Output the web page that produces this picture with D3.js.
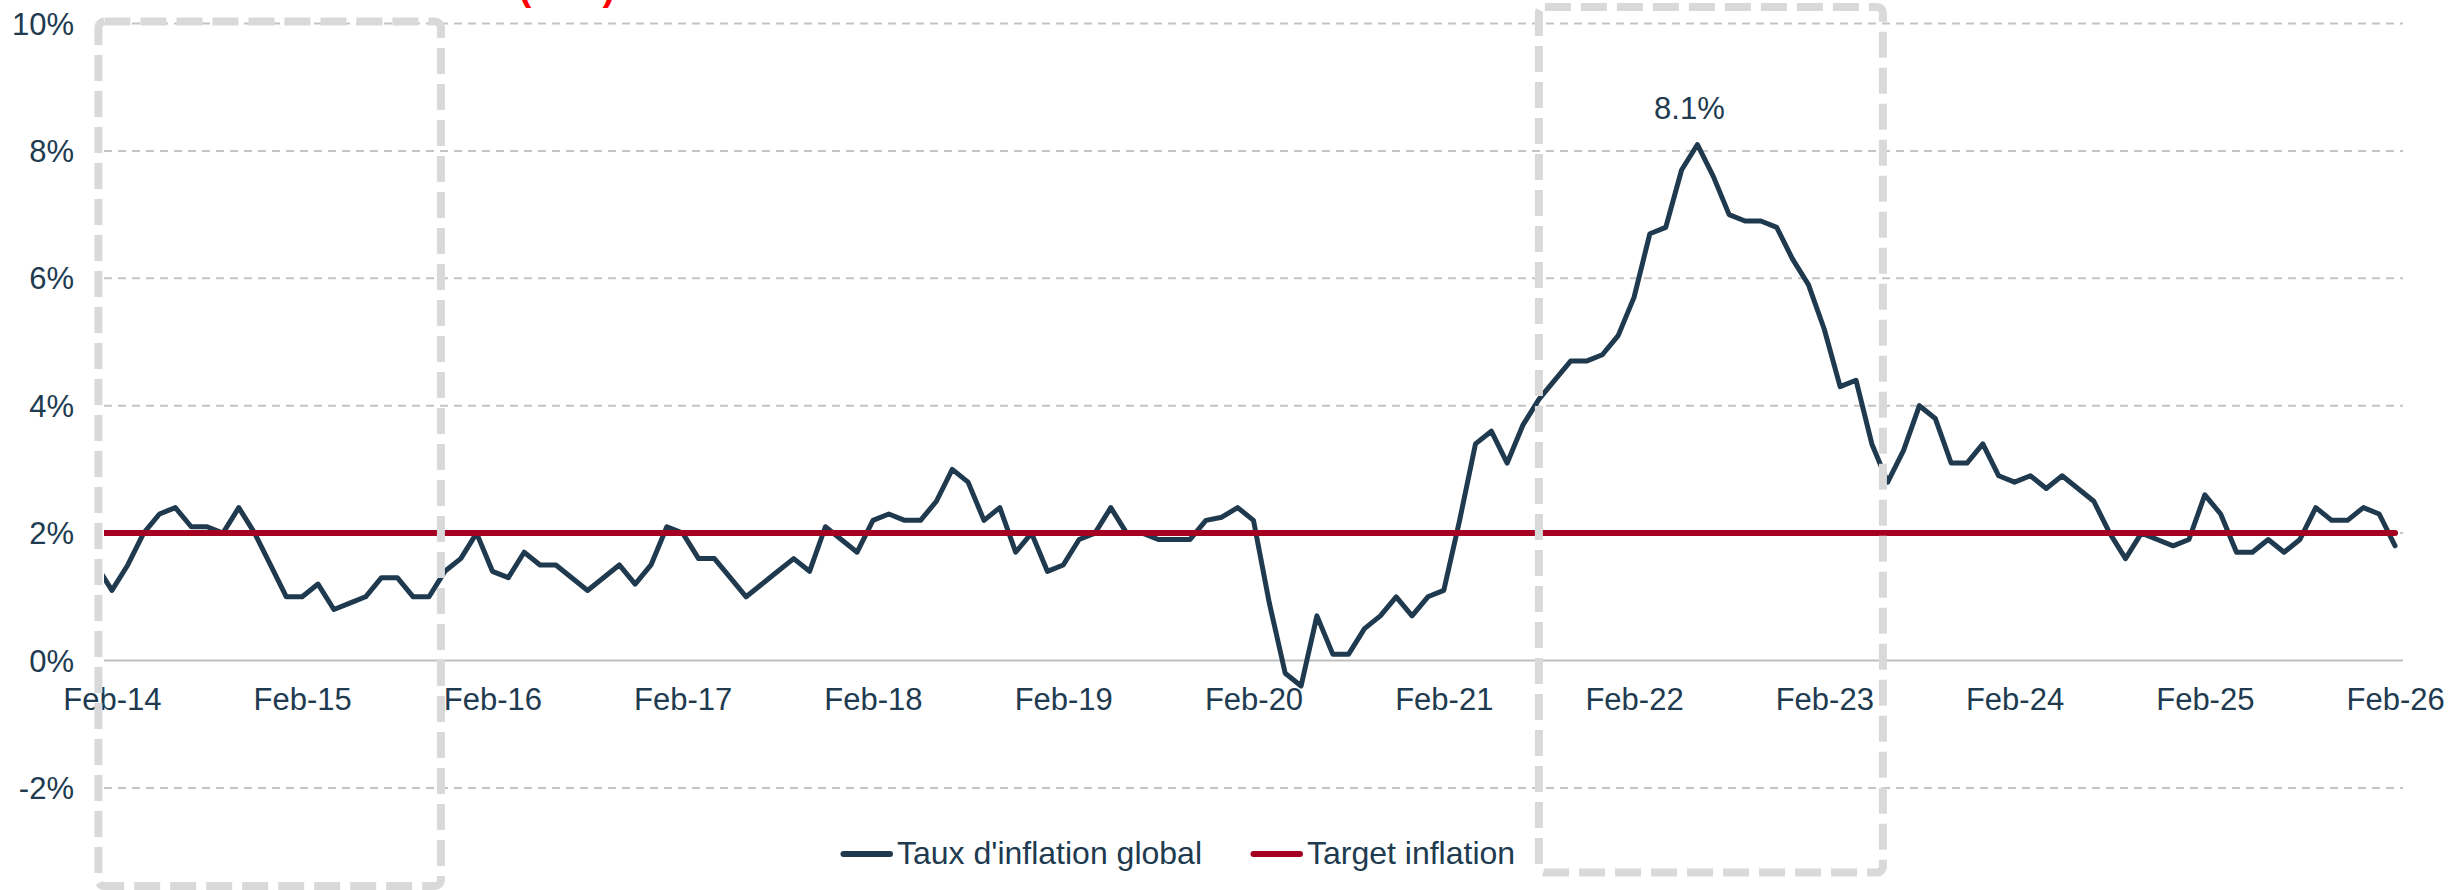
<!DOCTYPE html>
<html>
<head>
<meta charset="utf-8">
<script src="https://cdn.jsdelivr.net/npm/d3@7"></script>
<style>
  body { margin: 0; background: #fff; }
  text { font-family: "Liberation Sans", Arial, sans-serif; }
</style>
</head>
<body>
<svg id="chart" width="2464" height="890"></svg>
<script>
// monthly categories, Jan-14 .. Feb-26
var months = d3.timeMonth.range(new Date(2014, 0, 1), new Date(2026, 2, 1));

// headline inflation, % y/y (one row per year)
var inflation = [
  1.5, 1.1, 1.5, 2.0, 2.3, 2.4, 2.1, 2.1, 2.0, 2.4, 2.0, 1.5,
  1.0, 1.0, 1.2, 0.8, 0.9, 1.0, 1.3, 1.3, 1.0, 1.0, 1.4, 1.6,
  2.0, 1.4, 1.3, 1.7, 1.5, 1.5, 1.3, 1.1, 1.3, 1.5, 1.2, 1.5,
  2.1, 2.0, 1.6, 1.6, 1.3, 1.0, 1.2, 1.4, 1.6, 1.4, 2.1, 1.9,
  1.7, 2.2, 2.3, 2.2, 2.2, 2.5, 3.0, 2.8, 2.2, 2.4, 1.7, 2.0,
  1.4, 1.5, 1.9, 2.0, 2.4, 2.0, 2.0, 1.9, 1.9, 1.9, 2.2, 2.25,
  2.4, 2.2, 0.9, -0.2, -0.4, 0.7, 0.1, 0.1, 0.5, 0.7, 1.0, 0.7,
  1.0, 1.1, 2.2, 3.4, 3.6, 3.1, 3.7, 4.1, 4.4, 4.7, 4.7, 4.8,
  5.1, 5.7, 6.7, 6.8, 7.7, 8.1, 7.6, 7.0, 6.9, 6.9, 6.8, 6.3,
  5.9, 5.2, 4.3, 4.4, 3.4, 2.8, 3.3, 4.0, 3.8, 3.1, 3.1, 3.4,
  2.9, 2.8, 2.9, 2.7, 2.9, 2.7, 2.5, 2.0, 1.6, 2.0, 1.9, 1.8,
  1.9, 2.6, 2.3, 1.7, 1.7, 1.9, 1.7, 1.9, 2.4, 2.2, 2.2, 2.4,
  2.3, 1.8
];

var targetInflation = 2;

var tickLabels = ["Feb-14", "Feb-15", "Feb-16", "Feb-17", "Feb-18", "Feb-19", "Feb-20",
                  "Feb-21", "Feb-22", "Feb-23", "Feb-24", "Feb-25", "Feb-26"];
var yTicks = [-2, 0, 2, 4, 6, 8, 10];
var seriesNames = ["Taux d'inflation global", "Target inflation"];

// highlighted periods (month index / % units)
var highlightFrom = [0.15, 91.0];
var highlightTo = [21.75, 112.7];
var highlightTop = [10.03, 10.26];
var highlightBottom = [-3.54, -3.33];

var navy = "#1F3A4F", red = "#A50021", grey = "#C4C4C4", textCol = "#203A50";

var left = 104, right = 2403;

var svg = d3.select("#chart");

var x = d3.scaleLinear()
    .domain([0.5, months.length - 0.5])
    .range([left, right]);

var y = d3.scaleLinear()
    .domain([-4, 10])
    .range([915.3, 23.5]);

var fmt = d3.timeFormat("%b-%y");

svg.append("clipPath")
    .attr("id", "plotclip")
  .append("rect")
    .attr("x", left)
    .attr("y", 0)
    .attr("width", right - left + 6)
    .attr("height", 890);

// gridlines
svg.append("g")
    .selectAll("line")
    .data(yTicks)
  .enter().append("line")
    .attr("x1", left)
    .attr("x2", right)
    .attr("y1", function(d) { return y(d); })
    .attr("y2", function(d) { return y(d); })
    .attr("stroke", function(d) { return d === 0 ? "#BFBFBF" : grey; })
    .attr("stroke-width", 2)
    .attr("stroke-dasharray", function(d) { return d === 0 ? null : "8,6"; });

// y axis
var yAxis = svg.append("g")
    .attr("transform", "translate(" + left + ",0)")
    .call(d3.axisLeft(y).tickValues(yTicks).tickSize(0).tickPadding(30)
      .tickFormat(function(d) { return d + "%"; }));
yAxis.select(".domain").remove();
yAxis.selectAll("text")
    .style("font-size", "31px")
    .style("fill", textCol)
    .attr("dy", "0.34em");

// x axis
var tickIdx = months.map(function(m, i) { return i; })
    .filter(function(i) { return tickLabels.indexOf(fmt(months[i])) >= 0; });

var xAxis = svg.append("g")
    .attr("transform", "translate(0," + y(0) + ")")
    .call(d3.axisBottom(x).tickValues(tickIdx).tickSize(0).tickPadding(27.5)
      .tickFormat(function(i) { return fmt(months[i]); }));
xAxis.select(".domain").remove();
xAxis.selectAll("text")
    .style("font-size", "31px")
    .style("fill", textCol);

var plot = svg.append("g").attr("clip-path", "url(#plotclip)");

var line = d3.line()
    .x(function(d, i) { return x(i); })
    .y(function(d) { return y(d); });

plot.append("path")
    .datum(inflation)
    .attr("fill", "none")
    .attr("stroke", navy)
    .attr("stroke-width", 5)
    .attr("stroke-linejoin", "round")
    .attr("stroke-linecap", "round")
    .attr("d", line);

plot.append("path")
    .datum(months.map(function() { return targetInflation; }))
    .attr("fill", "none")
    .attr("stroke", red)
    .attr("stroke-width", 6)
    .attr("stroke-linecap", "round")
    .attr("d", line);

// peak label
var peak = d3.maxIndex(inflation);
svg.append("text")
    .attr("x", x(peak) - 8)
    .attr("y", y(inflation[peak]) - 26)
    .attr("text-anchor", "middle")
    .style("font-size", "31px")
    .style("fill", textCol)
    .text(d3.format(".1f")(inflation[peak]) + "%");

// highlight boxes
svg.append("g")
    .selectAll("rect")
    .data(highlightFrom)
  .enter().append("rect")
    .attr("x", function(d) { return x(d); })
    .attr("y", function(d, i) { return y(highlightTop[i]); })
    .attr("width", function(d, i) { return x(highlightTo[i]) - x(d); })
    .attr("height", function(d, i) { return y(highlightBottom[i]) - y(highlightTop[i]); })
    .attr("rx", 6)
    .attr("fill", "none")
    .attr("stroke", "#D9D9D9")
    .attr("stroke-width", 8)
    .attr("stroke-dasharray", "26,10");

// title remnant at top edge
svg.append("text")
    .attr("x", 567)
    .attr("y", 0)
    .attr("text-anchor", "middle")
    .style("font-size", "38px")
    .style("font-weight", "bold")
    .style("fill", "#FF0000")
    .text("(YoY)");

// legend
var legendColors = [navy, red];
var lx = 841, ly = 854;
seriesNames.forEach(function(name, i) {
  var g = svg.append("g").attr("class", "legend");
  g.append("line")
      .attr("x1", lx + 2.5)
      .attr("x2", lx + 49)
      .attr("y1", ly)
      .attr("y2", ly)
      .attr("stroke", legendColors[i])
      .attr("stroke-width", 6)
      .attr("stroke-linecap", "round");
  var t = g.append("text")
      .attr("x", lx + 56)
      .attr("y", ly)
      .attr("dy", "0.31em")
      .style("font-size", "32px")
      .style("fill", textCol)
      .text(name);
  lx = lx + 56 + t.node().getComputedTextLength() + 49;
});
</script>
</body>
</html>
